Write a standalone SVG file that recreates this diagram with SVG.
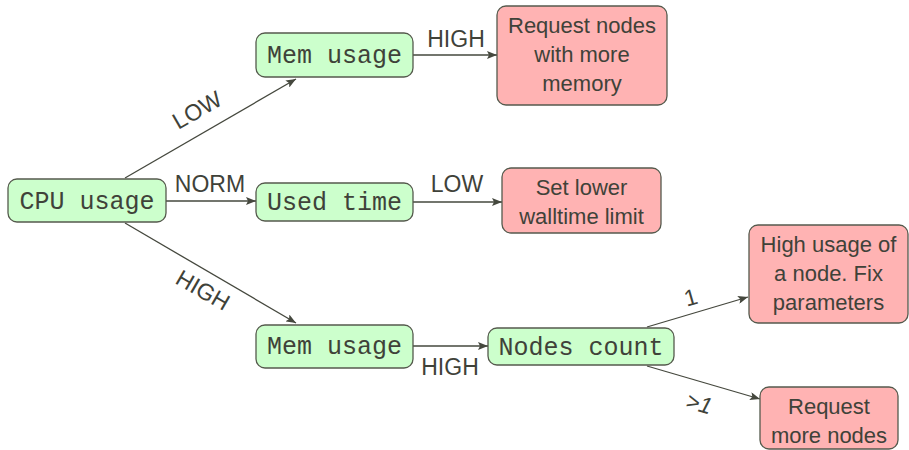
<svg xmlns="http://www.w3.org/2000/svg" width="909" height="450" viewBox="0 0 909 450">
<style>
.g{fill:#ccffcc;stroke:#555a4d;stroke-width:1.3}
.r{fill:#ffb3b3;stroke:#555a4d;stroke-width:1.3}
.m{font-family:"Liberation Mono","DejaVu Sans Mono",monospace;font-size:25px;fill:#3f4239;text-anchor:middle}
.s{font-family:"Liberation Sans",Arial,sans-serif;font-size:22px;fill:#3f4239;text-anchor:middle}
.l{font-family:"Liberation Sans",Arial,sans-serif;font-size:23px;fill:#3f4239;text-anchor:middle}
.e{stroke:#45483e;stroke-width:1.3;fill:none;marker-end:url(#ah)}
</style>
<defs>
<marker id="ah" viewBox="0 0 10 8" refX="10" refY="4" markerWidth="10" markerHeight="8" markerUnits="userSpaceOnUse" orient="auto">
<path d="M0,0 L10,4 L0,8 L2,4 Z" fill="#45483e"/>
</marker>
</defs>
<g id="connectors">
<line class="e" x1="125" y1="178" x2="296" y2="79"/>
<line class="e" x1="166" y1="201" x2="256" y2="201"/>
<line class="e" x1="125" y1="223" x2="296" y2="323"/>
<line class="e" x1="413" y1="55" x2="497" y2="55"/>
<line class="e" x1="413" y1="202" x2="502" y2="202"/>
<line class="e" x1="413" y1="346" x2="488" y2="346"/>
<line class="e" x1="647" y1="327" x2="748" y2="297"/>
<line class="e" x1="647" y1="366" x2="760" y2="399"/>
<text class="l" transform="translate(201,117) rotate(-30)">LOW</text>
<text class="l" x="210" y="192">NORM</text>
<text class="l" transform="translate(199,297) rotate(30)">HIGH</text>
<text class="l" x="456" y="47">HIGH</text>
<text class="l" x="457" y="192">LOW</text>
<text class="l" x="450" y="375">HIGH</text>
<text class="l" transform="translate(693,305) rotate(-16)">1</text>
<text class="l" font-style="italic" transform="translate(697,411) rotate(16)">&gt;1</text>
</g>
<g id="cpu">
<rect class="g" x="8" y="179" width="158" height="43" rx="9"/>
<text class="m" x="87" y="209">CPU usage</text>
</g>
<g id="mem1">
<rect class="g" x="256" y="33" width="157" height="44" rx="9"/>
<text class="m" x="334.5" y="63">Mem usage</text>
</g>
<g id="used">
<rect class="g" x="256" y="183" width="157" height="38" rx="9"/>
<text class="m" x="334.5" y="210">Used time</text>
</g>
<g id="mem2">
<rect class="g" x="256" y="325" width="157" height="43" rx="9"/>
<text class="m" x="334.5" y="354">Mem usage</text>
</g>
<g id="nodes">
<rect class="g" x="488" y="328" width="186" height="37" rx="9"/>
<text class="m" x="581" y="355">Nodes count</text>
</g>
<g id="reqmem">
<rect class="r" x="497" y="6" width="170" height="99" rx="9"/>
<text class="s" x="582" y="33">Request nodes</text>
<text class="s" x="582" y="62">with more</text>
<text class="s" x="582" y="91">memory</text>
</g>
<g id="wall">
<rect class="r" x="502" y="168" width="159" height="65" rx="9"/>
<text class="s" x="581.5" y="195">Set lower</text>
<text class="s" x="581.5" y="224">walltime limit</text>
</g>
<g id="high">
<rect class="r" x="749" y="225" width="159" height="98" rx="9"/>
<text class="s" x="828.5" y="252">High usage of</text>
<text class="s" x="828.5" y="281">a node. Fix</text>
<text class="s" x="828.5" y="310">parameters</text>
</g>
<g id="reqmore">
<rect class="r" x="760" y="387" width="138" height="62" rx="9"/>
<text class="s" x="829" y="414">Request</text>
<text class="s" x="829" y="443">more nodes</text>
</g>
</svg>
